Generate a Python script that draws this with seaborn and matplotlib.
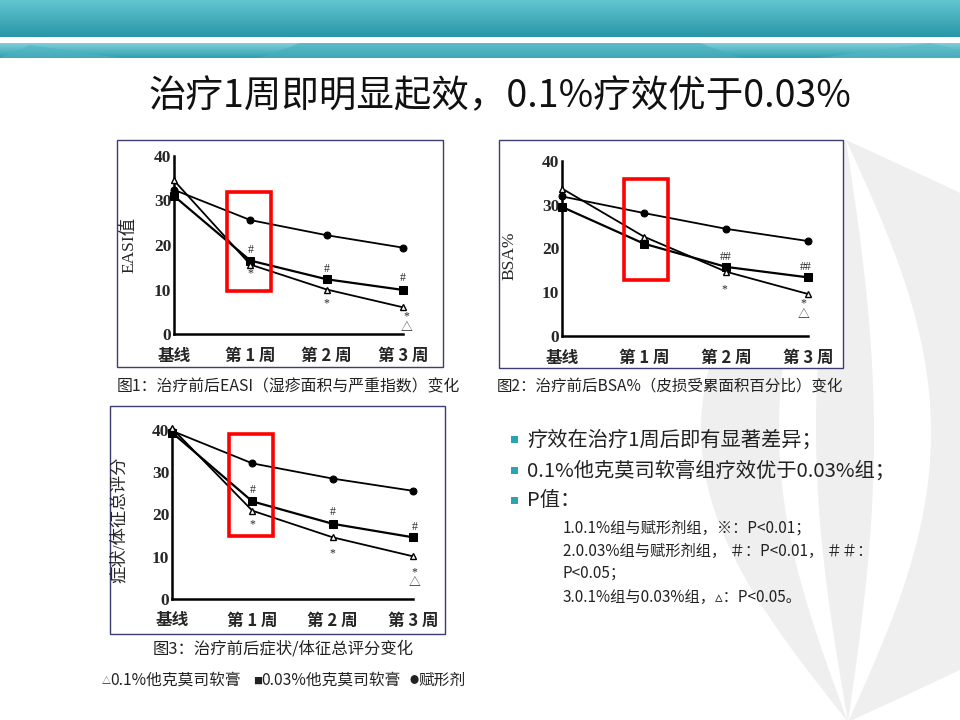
import numpy as np
import pandas as pd
import matplotlib
matplotlib.use("Agg")
import matplotlib.pyplot as plt
import seaborn as sns
from matplotlib.patches import Rectangle, Polygon

# ---------------- data ----------------
weeks = [0, 1, 2, 3]
week_labels = ["基线", "第 1 周", "第 2 周", "第 3 周"]
groups = ["0.1%他克莫司软膏", "0.03%他克莫司软膏", "赋形剂"]

easi_01 = [34.5, 15.6, 10.0, 6.0]
easi_003 = [31.0, 16.5, 12.3, 9.9]
easi_vehicle = [32.4, 25.6, 22.2, 19.4]

bsa_01 = [33.7, 22.7, 14.7, 9.6]
bsa_003 = [29.5, 21.1, 15.8, 13.4]
bsa_vehicle = [31.9, 28.1, 24.5, 21.7]

score_01 = [40.4, 20.9, 14.6, 10.1]
score_003 = [39.4, 23.1, 17.8, 14.6]
score_vehicle = [39.8, 32.1, 28.5, 25.6]

y_ticks = [0, 10, 20, 30, 40]

easi_sig_x = [1, 1, 2, 2, 3.0, 3.05, 3.05]
easi_sig_y = [18.8, 13.6, 14.7, 6.9, 12.5, 3.9, 1.4]
easi_sig = ["#", "*", "#", "*", "#", "*", "△"]

bsa_sig_x = [2, 1.98, 2.97, 2.94, 2.94]
bsa_sig_y = [18.1, 10.7, 15.8, 7.5, 4.8]
bsa_sig = ["##", "*", "##", "*", "△"]

score_sig_x = [1, 1, 2, 2, 3.02, 3.02, 3.02]
score_sig_y = [25.7, 17.6, 20.5, 10.7, 17.0, 6.4, 3.8]
score_sig = ["#", "*", "#", "*", "#", "*", "△"]

title = "治疗1周即明显起效，0.1%疗效优于0.03%"
captions = ["图1：治疗前后EASI（湿疹面积与严重指数）变化",
            "图2：治疗前后BSA%（皮损受累面积百分比）变化",
            "图3：治疗前后症状/体征总评分变化"]
legend_symbols = ["△", "■", "●"]
legend_items = ["0.1%他克莫司软膏", "0.03%他克莫司软膏", "赋形剂"]
bullets = ["疗效在治疗1周后即有显著差异；",
           "0.1%他克莫司软膏组疗效优于0.03%组；",
           "P值："]
sub_lines = ["1.0.1%组与赋形剂组，※：P<0.01；",
             "2.0.03%组与赋形剂组， ＃：P<0.01， ＃＃：",
             "P<0.05；",
             "3.0.1%组与0.03%组，▵：P<0.05。"]

# ---------------- style ----------------
sns.set_style("white")
plt.rcParams["font.family"] = ["Noto Sans CJK SC", "DejaVu Sans"]

W, H = 960, 720
fig = plt.figure(figsize=(9.6, 7.2), dpi=100)
fig.patch.set_facecolor("white")

bg = fig.add_axes([0, 0, 1, 1])
bg.set_xlim(0, W)
bg.set_ylim(H, 0)
bg.axis("off")

# header bands
grad = np.linspace(0, 1, 64).reshape(-1, 1)
top_cmap = matplotlib.colors.LinearSegmentedColormap.from_list("t", ["#63c5d1", "#2796a6"])
bg.imshow(grad, extent=[0, W, 37, 0], cmap=top_cmap, aspect="auto", zorder=1)
bot_cmap = matplotlib.colors.LinearSegmentedColormap.from_list("b", ["#7fd0da", "#2f9fae"])
bg.imshow(grad, extent=[0, W, 58, 43], cmap=bot_cmap, aspect="auto", zorder=1)
bg.add_patch(Polygon([[0, 58], [30, 45], [120, 58]], closed=True, color="#4fb3c1", alpha=0.6, zorder=2, lw=0))
bg.add_patch(Polygon([[260, 58], [300, 43], [700, 43], [740, 58]], closed=True, color="#47aebd", alpha=0.6, zorder=2, lw=0))
bg.add_patch(Polygon([[820, 58], [930, 43], [960, 50], [960, 58]], closed=True, color="#57b8c5", alpha=0.6, zorder=2, lw=0))
bg.set_xlim(0, W)
bg.set_ylim(H, 0)


def lens(xl, xr, ytop=140, ybot=722, xtop=846, xbot=848, n=120):
    t = np.linspace(0, 1, n)
    y = ytop + (ybot - ytop) * t
    xc = xtop + (xbot - xtop) * t
    s = np.sin(np.pi * t)
    left = xc + (xl - xtop) * s
    right = xc + (xr - xtop) * s
    return np.vstack([np.c_[left, y], np.c_[right[::-1], y[::-1]]])


bg.add_patch(Polygon(lens(700, 1250), closed=True, color="#efefef", lw=0, zorder=1))
bg.add_patch(Polygon(lens(778, 815), closed=True, color="white", lw=0, zorder=1.1))
bg.add_patch(Polygon(lens(873, 930), closed=True, color="white", lw=0, zorder=1.1))

# title
bg.text(500, 97, title, fontsize=27, ha="center", va="center", color="#111111", zorder=5)

# chart frames
frames = [(117, 140, 443, 367), (499, 140, 843, 368), (110, 406, 445, 634)]
for (x0, y0, x1, y1) in frames:
    bg.add_patch(Rectangle((x0, y0), x1 - x0, y1 - y0, facecolor="white",
                           edgecolor="#3d3d70", lw=1.0, zorder=3))

# captions and legend
bg.text(117, 387, captions[0], fontsize=11.4, ha="left", va="center", color="#222222", zorder=5)
bg.text(497, 387, captions[1], fontsize=11.2, ha="left", va="center", color="#222222", zorder=5)
bg.text(283, 649, captions[2], fontsize=11.8, ha="center", va="center", color="#222222", zorder=5)
sym_x = [102, 253, 409]
txt_x = [110, 261, 418]
for sx_, tx_, sym, item in zip(sym_x, txt_x, legend_symbols, legend_items):
    bg.text(sx_, 681, sym, fontsize=6.5, ha="left", va="center", color="#222222", zorder=5)
    bg.text(tx_, 680, item, fontsize=11.3, ha="left", va="center", color="#222222", zorder=5)

# bullets
for i, b in enumerate(bullets):
    yy = [440, 471, 501][i]
    bg.add_patch(Rectangle((511, yy - 4), 7, 7, color="#2aa3b3", lw=0, zorder=5))
    bg.text(527, yy, b, fontsize=14.6, ha="left", va="center", color="#222222", zorder=5)
for i, s in enumerate(sub_lines):
    yy = [528, 551, 573, 597][i]
    bg.text(563, yy, s, fontsize=11, ha="left", va="center", color="#222222", zorder=5)


def px_rect(x0, x1, ybot, ytop):
    return [x0 / W, 1 - ybot / H, (x1 - x0) / W, (ybot - ytop) / H]


def draw_chart(rect, v01, v003, vveh, sx, sy, ss, box, ylabel, lab_xy):
    ax = fig.add_axes(rect)
    ax.set_facecolor("none")
    sns.lineplot(x=weeks, y=vveh, ax=ax, color="black", lw=1.3, marker="o",
                 markersize=5, markerfacecolor="black", markeredgecolor="black",
                 clip_on=False, zorder=4)
    sns.lineplot(x=weeks, y=v003, ax=ax, color="black", lw=1.6, marker="s",
                 markersize=5.5, markerfacecolor="black", markeredgecolor="black",
                 clip_on=False, zorder=4)
    sns.lineplot(x=weeks, y=v01, ax=ax, color="black", lw=1.3, marker="^",
                 markersize=5, markerfacecolor="white", markeredgecolor="black",
                 markeredgewidth=1.0, clip_on=False, zorder=5)
    ax.set_xlim(0, 3)
    ax.set_ylim(0, 40)
    ax.set_xticks(weeks)
    ax.set_xticklabels(week_labels, fontsize=12, fontweight="bold")
    ax.set_yticks(y_ticks)
    ax.set_yticklabels([str(v) for v in y_ticks], fontsize=12.5, fontweight="bold",
                       family=["Liberation Serif", "DejaVu Serif"])
    ax.tick_params(axis="y", direction="in", length=3, width=1.2, pad=2)
    ax.tick_params(axis="x", direction="in", length=3, width=1.2, pad=9)
    for sp in ["top", "right"]:
        ax.spines[sp].set_visible(False)
    for sp in ["left", "bottom"]:
        ax.spines[sp].set_linewidth(1.8)
        ax.spines[sp].set_color("black")
    ax.set_xlabel("")
    ax.set_ylabel(ylabel, fontsize=12.5, family=["Liberation Serif", "Noto Sans CJK SC"])
    ax.yaxis.set_label_coords(*lab_xy)
    for x, y, s in zip(sx, sy, ss):
        ax.text(x, y, s, fontsize=8.5, ha="center", va="center",
                family=["Liberation Serif", "Noto Sans CJK SC"], clip_on=False, zorder=6)
    x0, x1, y0, y1 = box
    ax.add_patch(Rectangle((x0, y0), x1 - x0, y1 - y0, fill=False,
                           edgecolor="#ff0000", lw=2.6, clip_on=False, zorder=7))
    ax.grid(False)
    return ax


draw_chart(px_rect(174, 403, 334, 156), easi_01, easi_003, easi_vehicle,
           easi_sig_x, easi_sig_y, easi_sig, (0.70, 1.27, 9.6, 31.8), "EASI值", (-0.16, 0.5))
draw_chart(px_rect(562, 808, 336, 161), bsa_01, bsa_003, bsa_vehicle,
           bsa_sig_x, bsa_sig_y, bsa_sig, (0.76, 1.29, 12.8, 35.8), "BSA%", (-0.18, 0.46))
draw_chart(px_rect(172, 413, 599, 430), score_01, score_003, score_vehicle,
           score_sig_x, score_sig_y, score_sig, (0.71, 1.26, 14.8, 39.0), "症状/体征总评分", (-0.185, 0.47))

fig.savefig("out.png", dpi=100, facecolor="white")
